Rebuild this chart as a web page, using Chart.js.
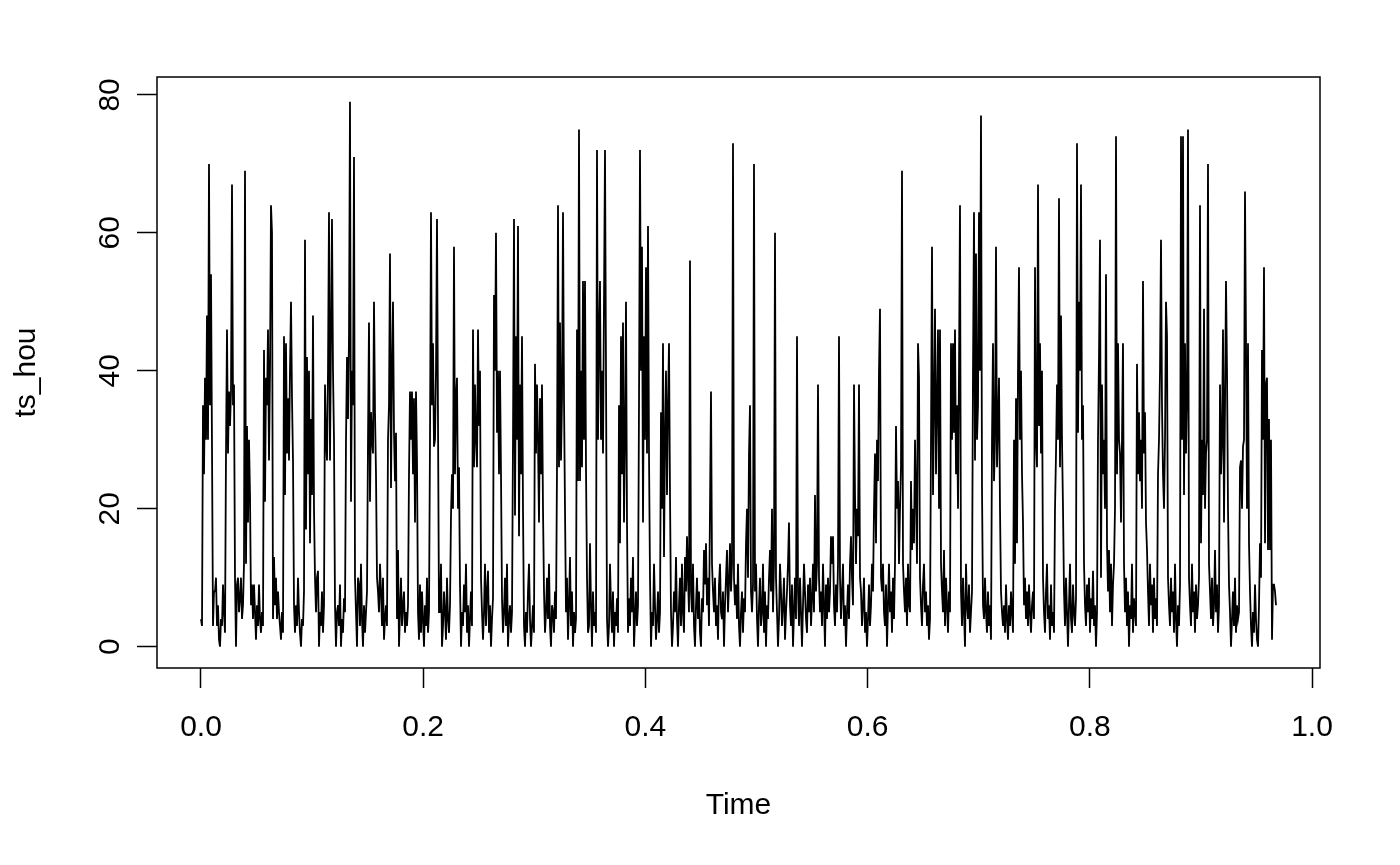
<!DOCTYPE html>
<html>
<head>
<meta charset="utf-8">
<title>ts_hou</title>
<script src="https://cdn.jsdelivr.net/npm/chart.js@4.4.1/dist/chart.umd.min.js"></script>
<style>
  html, body { margin: 0; padding: 0; background: #ffffff; }
  #wrap { width: 1400px; height: 865px; }
</style>
</head>
<body>
<div id="wrap"><canvas id="grafico" width="1400" height="865"></canvas></div>
<script>
// Série horária, em blocos de ~0.1 no eixo do tempo
const hou01 = [4,3,35,25,39,30,48,30,70,35,54,29,3, 8,8,10,3,6,1,0,4,3,9,5,2, 28,46,28,37,32,37,67,35,38,10,
  0,9,10,5,7,10,4,6, 12,69,12,32,18,30,22,6, 9,4,9,5,1,6,3,9,4,2,5,3, 43,21,39,35,46,27,40,64,60,4,
  13,6,10,4,8,5,3,1,5,2, 45,22,44,28,36,27,40,50,36,27, 6,2,6,3,10,5,2,0,4,3,8, 59,17,42,25,40,15,33,22,48,20,10];
const hou02 = [5,10,11,0,5,3,8,2,6, 38,30,27,40,63,27,45,62,40,30, 6,0,5,6,3,9,0,4,2,7,5, 30,42,33,45,79,21,40,35,71,10,
  5,0,10,9,3,12,4,0,6,2,5,8, 30,47,21,34,30,28,50,34,25,10, 8,5,12,8,3,10,1,4,6,3, 30,35,57,23,40,50,31,24,31,
  4,14,0,5,10,3,6,8,2,5,3,6, 25,37,30,37,25,36,18,37,27];
const hou03 = [5,1,9,2,8,4,0,6,3,10,2,5, 30,63,35,44,29,30,40,62,33,5, 5,12,0,3,8,5,1,10,4,2,6, 19,25,20,58,25,36,39,20,26,9,
  0,5,3,9,5,12,2,6,0,4,8,3, 46,26,38,30,26,46,32,40,10, 5,1,5,12,3,8,11,2,6,0,4,7, 51,40,60,31,40,25,40,25,
  7,2,5,10,3,12,0,4,6,2,5, 30,62,19,45,30,61,16,38,25,45];
const hou04 = [20,3,0,5,2,8,12,4,0,3,6,2, 41,28,38,30,18,36,25,38,20, 8,2,5,10,4,12,3,0,6,5,2,8,4, 26,64,26,47,27,36,63,36,20,
  5,10,1,6,13,3,8,0,5,2,4, 46,24,75,24,40,26,53,30,53,26, 10,2,3,15,6,0,8,3,5,2, 72,30,45,53,30,40,28,50,72,40,
  4,0,3,12,6,2,8,0,5,3,7,2, 35,15,45,25,47,18,30,50,18];
const hou05 = [2,7,3,10,5,13,0,4,8,3,6, 35,72,40,58,18,45,30,55,28,61,28, 10,0,5,3,12,6,1,4,8,2,5, 34,20,44,13,30,40,22,35,44,
  22,5,0,3,8,5,13,4,0,6,10,3,12,5,2,13,8,16,10,5, 56, 8,5,12,3,0,6,10,4,8,2,0,7,5,14,9,15,6,10,3,20, 37,
  12,8,5,10,3,6,1,9,12,5,4,8,0,6,10,14,5,9,15,8,12];
const hou06 = [73, 10,6,9,4,12,3,0,5,8,2,7,5,15,20,10,28,35,8,5,9, 70, 8,12,4,0,6,10,3,5,12,2,8,0,6,4,10,14,8,20,5,12, 60,
  10,5,0,4,12,8,3,6,10,1,5,8,12,18,6,3,9,0,5,10,4, 45, 8,3,10,5,0,6,12,8,4,2,9,5,10,3,7,12,5,22,8,12, 38,
  10,5,8,3,12,6,0,9,4,10,5,8,16,12,16,6,3,9,5,12, 45];
const hou07 = [10,4,8,12,3,6,0,5,9,4,12,16,10,6, 38,22,12,20,16,38,10, 8,3,6,10,2,5,0,4,9,3,6,12,8, 20,28,15,30,24,40,49,10,
  8,12,5,3,9,0,6,12,5,8,2,10,4,12, 32,20,24,12,20,26,69,12, 8,5,10,3,12,6,5, 24,14,20,15,30,22,12,44,39,10,
  6,3,9,12,5,8,3,6,1,4, 30,58,22,35,49,25,35,46,20,46, 12,8,5,14,3,10,6,2,8,5];
const hou08 = [44,30,44,31,46,25,35,20,40,64, 8,3,10,5,0,12,6,4,9,2,5,8, 40,63,27,57,30,35,63,40,77,23, 6,4,10,5,2,8,3,6,1,
  30,44,24,30,58,26,32,39,20, 8,5,3,6,2,9,4,1,6,3,8,5,2, 30,12,36,15,40,55,30,40,25,18, 6,10,4,8,3,9,5,2,6,8,4,
  55,30,26,67,32,44,28,40];
const hou09 = [10,5,2,8,12,4,6,1,9,3,5,2, 20,28,38,30,65,26,48,30,20, 8,3,10,5,0,6,12,4,2,9,5,3,7, 73,31,50,40,67,30,35,
  12,6,3,9,5,10,2,7,4,11,3,6,0,5, 30,42,59,10,38,25,30,20,54,15, 8,14,5,12,3,9,12,20, 74,25,44,30,28,18,30,44,12,
  5,10,3,8,0,6,4,12,2,7,5,3, 41,25,34,24,30,20,53,28,34,18];
const hou10 = [14,8,3,12,6,9,2,10,4,7,3, 25,30,40,59,35,25,20,30,50,45,10, 6,3,10,5,8,2,12,4,0,6,3,9, 74,30,74,22,44,28,36,75,10,
  6,3,12,5,8,2,9,4,6,10, 64,15,30,22,49,20,28,30,70,12, 8,4,10,3,6,14,5,9,2,6, 38,25,30,46,18,35,53,40,20,
  9,5,0,4,8,3,10,2,6,4,5, 26,27,20,29,30,66,44,20,44,15, 8,3,0,5,2,9,4,1,0,6,15,10, 43,30,55,15,38,39,14,33,14,30,1,9,9,8,6];

// Início e frequência da série (tempo = início + i / frequência)
const tsStart = 0;
const tsFrequency = 1111;

// Rótulos dos eixos
const xTicks = [0, 0.2, 0.4, 0.6, 0.8, 1.0];
const yTicks = [0, 20, 40, 60, 80];

const serie = [].concat(hou01, hou02, hou03, hou04, hou05, hou06, hou07, hou08, hou09, hou10);
const pontos = serie.map((v, i) => ({ x: tsStart + i / tsFrequency, y: v }));

Chart.defaults.font.family = '"Liberation Sans", Arial, Helvetica, sans-serif';
Chart.defaults.color = '#000000';

// Moldura da área do gráfico (como o box() do R)
const moldura = {
  id: 'moldura',
  afterDraw(chart) {
    const { ctx, chartArea: a } = chart;
    ctx.save();
    ctx.strokeStyle = '#000000';
    ctx.lineWidth = 1.5;
    ctx.strokeRect(a.left, a.top, a.right - a.left, a.bottom - a.top);
    ctx.restore();
  }
};

const ctx = document.getElementById('grafico').getContext('2d');

const grafico = new Chart(ctx, {
  type: 'line',
  data: {
    datasets: [{
      label: 'ts_hou',
      data: pontos,
      borderColor: '#000000',
      borderWidth: 1.8,
      pointRadius: 0,
      tension: 0,
      fill: false
    }]
  },
  options: {
    responsive: false,
    devicePixelRatio: 1,
    animation: false,
    layout: { padding: { left: 0, top: 77, right: 80, bottom: 0 } },
    plugins: {
      legend: { display: false },
      tooltip: { enabled: false }
    },
    scales: {
      x: {
        type: 'linear',
        min: -0.0396,
        max: 1.0072,
        afterBuildTicks: (s) => { s.ticks = xTicks.map(v => ({ value: v })); },
        afterFit: (s) => { s.height = 197; },
        grid: { drawOnChartArea: false, tickLength: 20, tickColor: '#000000', tickWidth: 1.5 },
        border: { display: false },
        ticks: {
          color: '#000000',
          padding: 22,
          maxRotation: 0,
          autoSkip: false,
          font: { size: 30 },
          callback: (v) => Number(v).toFixed(1)
        },
        title: {
          display: true,
          text: 'Time',
          color: '#000000',
          font: { size: 30 },
          padding: { top: 0, bottom: 41 }
        }
      },
      y: {
        type: 'linear',
        min: -3.1,
        max: 82.6,
        afterBuildTicks: (s) => { s.ticks = yTicks.map(v => ({ value: v })); },
        afterFit: (s) => { s.width = 157; },
        grid: { drawOnChartArea: false, tickLength: 20, tickColor: '#000000', tickWidth: 1.5 },
        border: { display: false },
        ticks: {
          color: '#000000',
          padding: 10,
          minRotation: 90,
          maxRotation: 90,
          crossAlign: 'center',
          autoSkip: false,
          font: { size: 30 },
          callback: (v) => String(v)
        },
        title: {
          display: true,
          text: 'ts_hou',
          color: '#000000',
          font: { size: 30 },
          padding: { top: 9, bottom: 0 }
        }
      }
    }
  },
  plugins: [moldura]
});
</script>
</body>
</html>
